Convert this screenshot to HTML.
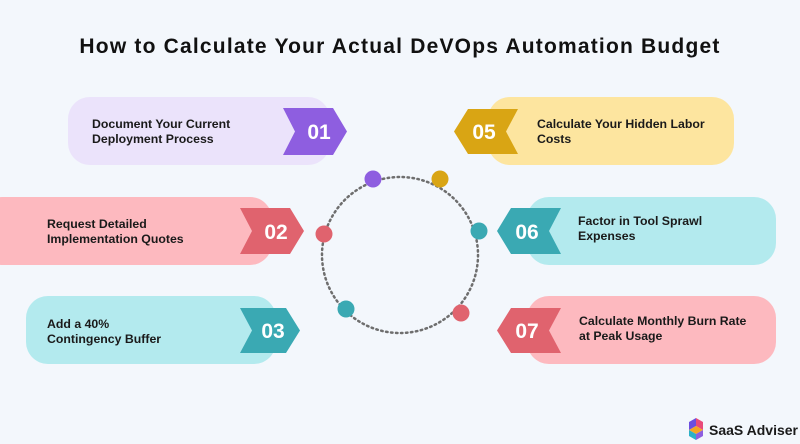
<!DOCTYPE html>
<html><head><meta charset="utf-8"><style>
html,body{margin:0;padding:0;background:#f3f7fc;}
svg{display:block}
text{font-family:"Liberation Sans",sans-serif;font-weight:bold;}
</style></head><body>
<svg width="800" height="444" viewBox="0 0 800 444" xmlns="http://www.w3.org/2000/svg">
<rect width="800" height="444" fill="#f3f7fc"/>
<text x="400" y="53" text-anchor="middle" font-size="21" letter-spacing="1.2" fill="#111">How to Calculate Your Actual DeVOps Automation Budget</text>

<!-- circle -->
<circle cx="400" cy="255" r="78" fill="none" stroke="#6e6e6e" stroke-width="2.5" stroke-dasharray="1.5 3.5" stroke-linecap="round"/>
<circle cx="373" cy="179" r="8.5" fill="#8e5ee0"/>
<circle cx="440" cy="179" r="8.5" fill="#d9a514"/>
<circle cx="324" cy="234" r="8.5" fill="#e0636e"/>
<circle cx="479" cy="231" r="8.5" fill="#3aa9b3"/>
<circle cx="346" cy="309" r="8.5" fill="#3aa9b3"/>
<circle cx="461" cy="313" r="8.5" fill="#e0636e"/>

<!-- left cards -->
<rect x="68" y="97" width="262" height="68" rx="22" fill="#ebe3fb"/>
<polygon points="283,108 333,108 347,131.5 333,155 283,155 295,131.5" fill="#8e5ee0"/>
<text x="319" y="139" text-anchor="middle" font-size="21" fill="#fff">01</text>
<text x="92" y="128" font-size="12.3" fill="#1a1a1a">Document Your Current</text>
<text x="92" y="143" font-size="12.3" fill="#1a1a1a">Deployment Process</text>

<rect x="-20" y="197" width="292" height="68" rx="22" fill="#fdb9bf"/>
<polygon points="240,208 290,208 304,231 290,254 240,254 252,231" fill="#e0636e"/>
<text x="276" y="239" text-anchor="middle" font-size="21" fill="#fff">02</text>
<text x="47" y="228" font-size="12.3" fill="#1a1a1a">Request Detailed</text>
<text x="47" y="243" font-size="12.3" fill="#1a1a1a">Implementation Quotes</text>

<rect x="26" y="296" width="250" height="68" rx="22" fill="#b3eaee"/>
<polygon points="240,308 286,308 300,330.5 286,353 240,353 252,330.5" fill="#3aa9b3"/>
<text x="273" y="338" text-anchor="middle" font-size="21" fill="#fff">03</text>
<text x="47" y="328" font-size="12.3" fill="#1a1a1a">Add a 40%</text>
<text x="47" y="343" font-size="12.3" fill="#1a1a1a">Contingency Buffer</text>

<!-- right cards -->
<rect x="488" y="97" width="246" height="68" rx="22" fill="#fde59f"/>
<polygon points="518,109 468,109 454,131.5 468,154 518,154 506,131.5" fill="#d9a514"/>
<text x="484" y="139" text-anchor="middle" font-size="21" fill="#fff">05</text>
<text x="537" y="128" font-size="12.3" fill="#1a1a1a">Calculate Your Hidden Labor</text>
<text x="537" y="143" font-size="12.3" fill="#1a1a1a">Costs</text>

<rect x="527" y="197" width="249" height="68" rx="22" fill="#b3eaee"/>
<polygon points="561,208 511,208 497,231 511,254 561,254 549,231" fill="#3aa9b3"/>
<text x="527" y="239" text-anchor="middle" font-size="21" fill="#fff">06</text>
<text x="578" y="225" font-size="12.3" fill="#1a1a1a">Factor in Tool Sprawl</text>
<text x="578" y="240" font-size="12.3" fill="#1a1a1a">Expenses</text>

<rect x="527" y="296" width="249" height="68" rx="22" fill="#fdb9bf"/>
<polygon points="561,308 511,308 497,330.5 511,353 561,353 549,330.5" fill="#e0636e"/>
<text x="527" y="338" text-anchor="middle" font-size="21" fill="#fff">07</text>
<text x="579" y="325" font-size="12.3" fill="#1a1a1a">Calculate Monthly Burn Rate</text>
<text x="579" y="340" font-size="12.3" fill="#1a1a1a">at Peak Usage</text>

<!-- logo -->
<g transform="translate(688,418)">
<polygon points="8,0 15,4 15,12 8,8" fill="#e94b7a"/>
<polygon points="1,4 8,0 8,8 1,12" fill="#6c4ee0"/>
<polygon points="1,12 8,8 15,12 8,16" fill="#f5a623"/>
<polygon points="1,12 8,16 8,22 1,18" fill="#2bb0c9"/>
<polygon points="8,16 15,12 15,18 8,22" fill="#8e5ee0"/>
</g>
<text x="709" y="435" font-size="14" fill="#1a1a1a" font-weight="bold">SaaS Adviser</text>
</svg>
</body></html>
